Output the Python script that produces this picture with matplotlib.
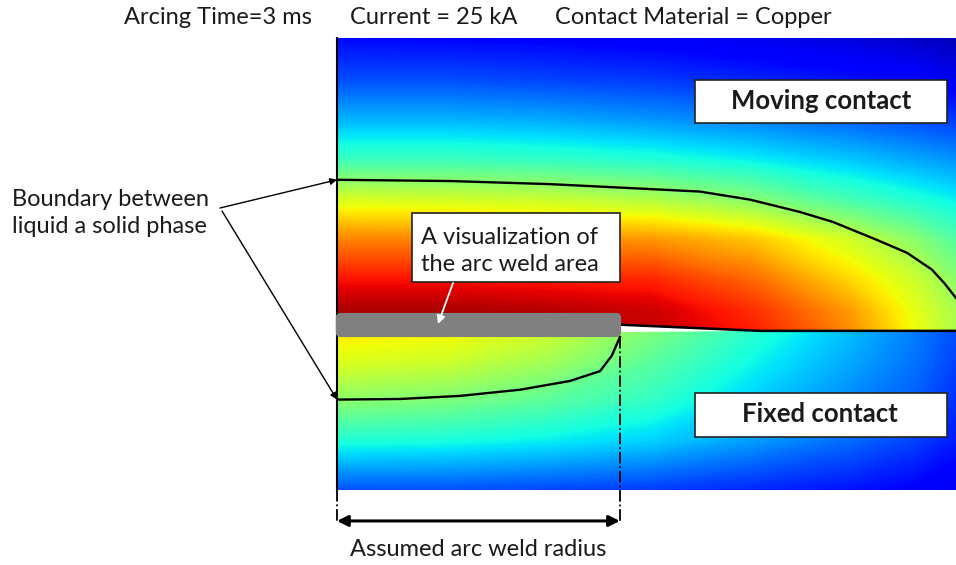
import numpy as np
import matplotlib
matplotlib.use("Agg")
import matplotlib.pyplot as plt
from matplotlib.patches import Rectangle, FancyBboxPatch, Polygon

plt.rcParams['font.family'] = ['Lato', 'DejaVu Sans']

# ---------------- data (radius r and axial position z in mm) ----------------
r_grid = [0.0, 1.8, 3.4, 5.1, 6.7, 8.3, 9.3, 10.0]
z_upper = [4.73, 4.05, 3.41, 2.76, 2.12, 1.47, 0.82, 0.34, 0.0]
z_lower = [0.0, -0.47, -1.11, -1.76, -2.57]

# relative temperature (0..1) read from the colour field, moving contact
T_upper = [
    [0.13, 0.125, 0.12, 0.11, 0.095, 0.08, 0.065, 0.05],
    [0.20, 0.20, 0.19, 0.18, 0.16, 0.14, 0.12, 0.10],
    [0.30, 0.30, 0.29, 0.27, 0.25, 0.22, 0.20, 0.18],
    [0.42, 0.42, 0.41, 0.39, 0.36, 0.32, 0.29, 0.27],
    [0.61, 0.60, 0.59, 0.56, 0.51, 0.43, 0.39, 0.36],
    [0.77, 0.77, 0.76, 0.75, 0.70, 0.60, 0.52, 0.45],
    [0.89, 0.89, 0.88, 0.87, 0.80, 0.68, 0.60, 0.52],
    [0.96, 0.96, 0.95, 0.93, 0.86, 0.74, 0.63, 0.55],
    [0.98, 0.98, 0.97, 0.94, 0.88, 0.76, 0.64, 0.56],
]
# fixed contact
T_lower = [
    [0.67, 0.65, 0.60, 0.50, 0.40, 0.31, 0.25, 0.20],
    [0.62, 0.60, 0.55, 0.46, 0.37, 0.29, 0.24, 0.19],
    [0.52, 0.50, 0.46, 0.41, 0.33, 0.26, 0.22, 0.17],
    [0.39, 0.38, 0.36, 0.33, 0.28, 0.23, 0.19, 0.15],
    [0.20, 0.20, 0.19, 0.18, 0.16, 0.14, 0.12, 0.10],
]

# liquid / solid boundaries
upper_r = [0.0, 1.83, 3.44, 5.06, 5.86, 6.67, 7.48, 8.01, 8.72, 9.21, 9.61, 9.82, 10.0]
upper_z = [2.44, 2.42, 2.37, 2.29, 2.25, 2.12, 1.92, 1.76, 1.47, 1.26, 0.99, 0.76, 0.53]
lower_r = [0.0, 1.02, 1.99, 2.96, 3.76, 4.25, 4.44, 4.57]
lower_z = [-1.11, -1.10, -1.05, -0.95, -0.81, -0.65, -0.40, -0.10]

weld_radius = 4.57
gap_end_r = 6.83
gap_height = 0.10

header = ["Arcing Time=3 ms", "Current = 25 kA", "Contact Material = Copper"]

# ---------------- figure ----------------
W, H = 956, 565
fig = plt.figure(figsize=(W / 100, H / 100), dpi=100)
ax = fig.add_axes([337 / W, (H - 490) / H, 619 / W, 452 / H])
ax.set_xlim(0, 10)
ax.set_ylim(-2.57, 4.73)
ax.axis('off')

levels = np.linspace(0, 1, 257)
for zg, T in ((z_upper, T_upper), (z_lower, T_lower)):
    Rg, Zg = np.meshgrid(r_grid, zg)
    cs = ax.contourf(Rg, Zg, np.array(T), levels=levels, cmap='jet', vmin=0, vmax=1,
                     antialiased=False)
    cs.set_edgecolor('face')
    cs.set_linewidth(0.4)

# boundaries
ax.plot(upper_r, upper_z, color='black', lw=1.7, zorder=3)
ax.plot(lower_r, lower_z, color='black', lw=1.7, zorder=3)

# gap wedge and interface
ax.add_patch(Polygon([(weld_radius, gap_height), (gap_end_r, 0.0), (weld_radius, -0.02)],
                     closed=True, facecolor='white', edgecolor='none', zorder=3))
ax.plot([weld_radius, gap_end_r, 10], [gap_height, 0.0, 0.0], color='black', lw=1.8, zorder=4,
        solid_capstyle='butt')

# left edge
ax.plot([0, 0], [-2.57, 4.73], color='black', lw=1.5, zorder=5, clip_on=False)

# weld area bar
ax.add_patch(FancyBboxPatch((-0.02, -0.10), weld_radius + 0.04, 0.39,
                            boxstyle='round,pad=0,rounding_size=0.08',
                            mutation_aspect=1, facecolor='#808080', edgecolor='none',
                            zorder=6, clip_on=False))

# dash-dot radius marks
ax.plot([0, 0], [-2.57, -3.10], color='black', lw=1.3, ls='-.', clip_on=False)
ax.plot([weld_radius, weld_radius], [-0.10, -3.10], color='black', lw=1.3, ls='-.', clip_on=False,
        zorder=5)
ax.annotate('', xy=(weld_radius, -3.07), xytext=(0, -3.07), xycoords='data',
            arrowprops=dict(arrowstyle='<|-|>', lw=2.2, color='black', mutation_scale=16,
                            shrinkA=0, shrinkB=0), annotation_clip=False)

# ---------------- overlay for annotations (pixel coordinates) ----------------
ov = fig.add_axes([0, 0, 1, 1], facecolor='none')
ov.set_xlim(0, W)
ov.set_ylim(H, 0)
ov.axis('off')

fs = 17
fsb = 18.5
tc = '#1a1a1a'
for txt, x0 in zip(header, [124, 350, 555]):
    ov.text(x0, 17, txt, fontsize=fs, ha='left', va='center', color=tc)

ov.text(12, 213, "Boundary between\nliquid a solid phase", fontsize=fs, ha='left', va='center',
        linespacing=1.4, color=tc)

ov.text(478, 550, "Assumed arc weld radius", fontsize=fs, ha='center', va='center', color=tc)

# boxes
ov.add_patch(Rectangle((695, 80), 252, 43, facecolor='white', edgecolor='#222222', lw=1.2))
ov.text(821, 101, "Moving contact", fontsize=fsb, fontweight='bold', ha='center', va='center', color=tc)
ov.add_patch(Rectangle((695, 393), 252, 44, facecolor='white', edgecolor='#222222', lw=1.2))
ov.text(820, 414, "Fixed contact", fontsize=fsb, fontweight='bold', ha='center', va='center', color=tc)
ov.add_patch(Rectangle((412, 213), 208, 69, facecolor='white', edgecolor='#222222', lw=1.2))
ov.text(421, 251, "A visualization of\nthe arc weld area", fontsize=fs, ha='left', va='center',
        linespacing=1.3, color=tc)

# arrows
ov.annotate('', xy=(438, 324), xytext=(453, 283),
            arrowprops=dict(arrowstyle='-|>', lw=1.3, color='white', mutation_scale=12,
                            shrinkA=0, shrinkB=0), zorder=8)

fp = lambda xy: (xy[0], H - xy[1])
ax.annotate('', xy=(0, upper_z[0]), xytext=fp((220, 208)), textcoords='figure pixels',
            arrowprops=dict(arrowstyle='-|>', lw=1.0, color='black', mutation_scale=10,
                            shrinkA=0, shrinkB=0), annotation_clip=False)
ax.annotate('', xy=(0, lower_z[0]), xytext=fp((222, 211)), textcoords='figure pixels',
            arrowprops=dict(arrowstyle='-|>', lw=1.0, color='black', mutation_scale=10,
                            shrinkA=0, shrinkB=0), annotation_clip=False)

fig.savefig('out.png', dpi=100)
